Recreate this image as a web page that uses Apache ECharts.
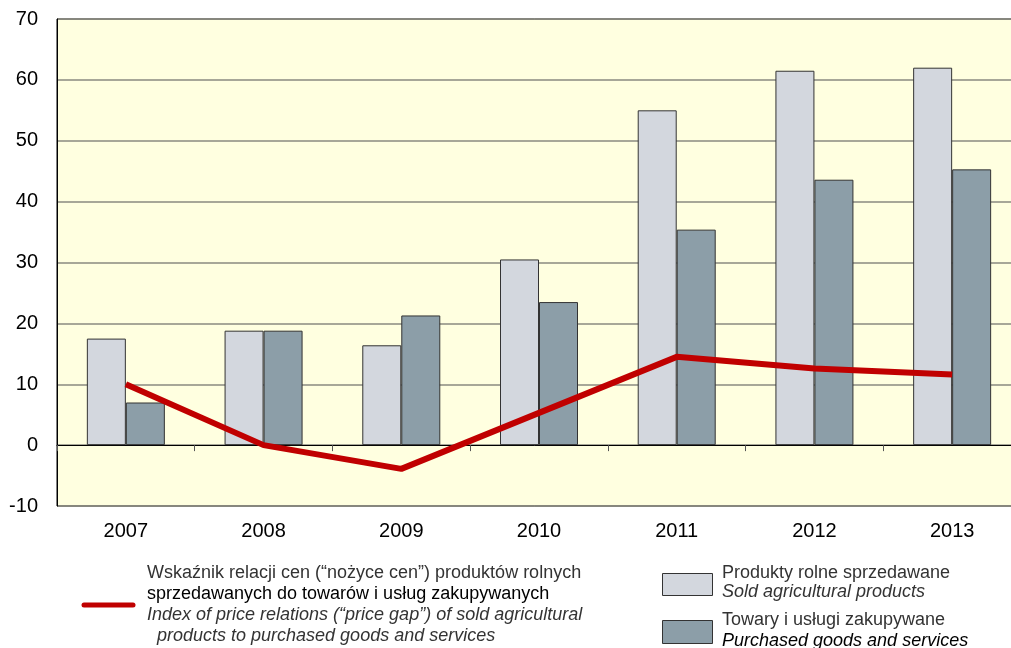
<!DOCTYPE html>
<html><head><meta charset="utf-8">
<script src="https://cdn.jsdelivr.net/npm/echarts@6/dist/echarts.min.js"></script>
<style>html,body{margin:0;padding:0;background:#fff}#c{width:1011px;height:648px}</style>
</head><body><div id="c"></div>
<script>
const years = ['2007','2008','2009','2010','2011','2012','2013'];
const soldProducts = [17.5, 18.8, 16.4, 30.5, 55.0, 61.5, 62.0];
const purchasedGoods = [7.0, 18.8, 21.3, 23.5, 35.4, 43.6, 45.3];
const priceGap = [10.0, 0.0, -3.9, 5.3, 14.5, 12.6, 11.6];
const yTicks = {min: -10, max: 70, step: 10};

const FONT = '"Liberation Sans", Arial, sans-serif';
const chart = echarts.init(document.getElementById('c'));
chart.setOption({
  animation: false,
  grid: {left: 57, right: -10, top: 19, bottom: 142, show: true, outerBoundsMode: 'none',
         backgroundColor: '#FFFFE0', borderColor: '#000', borderWidth: 1},
  xAxis: [
    {type: 'category', data: years, position: 'bottom',
     axisLine: {onZero: true, lineStyle: {color: '#000', width: 1}},
     axisTick: {show: true, length: 6, lineStyle: {color: '#555'}},
     axisLabel: {show: false}},
    {type: 'category', data: years, position: 'bottom',
     axisLine: {show: false, onZero: false}, axisTick: {show: false},
     axisLabel: {fontFamily: FONT, fontSize: 20, color: '#000', margin: 15}}
  ],
  yAxis: {type: 'value', min: yTicks.min, max: yTicks.max, interval: yTicks.step,
    axisLine: {show: true, lineStyle: {color: '#000'}}, axisTick: {show: false},
    axisLabel: {fontFamily: FONT, fontSize: 20, color: '#000', margin: 19},
    splitLine: {lineStyle: {color: '#8a8a80', width: 1.5}}},
  series: [
    {type: 'bar', data: soldProducts, xAxisIndex: 0, barWidth: 39, barGap: '0%',
     itemStyle: {color: '#D3D7DE', borderColor: '#333', borderWidth: 1}},
    {type: 'bar', data: purchasedGoods, xAxisIndex: 0, barWidth: 39, barGap: '0%',
     itemStyle: {color: '#8C9EA8', borderColor: '#333', borderWidth: 1}},
    {type: 'line', data: priceGap, xAxisIndex: 0, symbol: 'none', z: 5,
     lineStyle: {color: '#C00000', width: 6}}
  ],
  graphic: [
    {type: 'line', shape: {x1: 84, y1: 605, x2: 133, y2: 605},
     style: {stroke: '#C00000', lineWidth: 5, lineCap: 'round'}},
    {type: 'text', left: 147, top: 564, style: {text: 'Wskaźnik relacji cen (“nożyce cen”) produktów rolnych', font: '18px ' + FONT, fill: '#333'}},
    {type: 'text', left: 147, top: 585, style: {text: 'sprzedawanych do towarów i usług zakupywanych', font: '18px ' + FONT, fill: '#000'}},
    {type: 'text', left: 147, top: 606, style: {text: 'Index of price relations (“price gap”) of sold agricultural', font: 'italic 18px ' + FONT, fill: '#333'}},
    {type: 'text', left: 157, top: 627, style: {text: 'products to purchased goods and services', font: 'italic 18px ' + FONT, fill: '#333'}},
    {type: 'rect', shape: {x: 662.5, y: 573.5, width: 50, height: 22},
     style: {fill: '#D3D7DE', stroke: '#333', lineWidth: 1}},
    {type: 'rect', shape: {x: 662.5, y: 620.5, width: 50, height: 23},
     style: {fill: '#8C9EA8', stroke: '#333', lineWidth: 1}},
    {type: 'text', left: 722, top: 564, style: {text: 'Produkty rolne sprzedawane', font: '18px ' + FONT, fill: '#333'}},
    {type: 'text', left: 722, top: 583, style: {text: 'Sold agricultural products', font: 'italic 18px ' + FONT, fill: '#333'}},
    {type: 'text', left: 722, top: 611, style: {text: 'Towary i usługi zakupywane', font: '18px ' + FONT, fill: '#333'}},
    {type: 'text', left: 722, top: 632, style: {text: 'Purchased goods and services', font: 'italic 18px ' + FONT, fill: '#000'}}
  ]
});
</script></body></html>
